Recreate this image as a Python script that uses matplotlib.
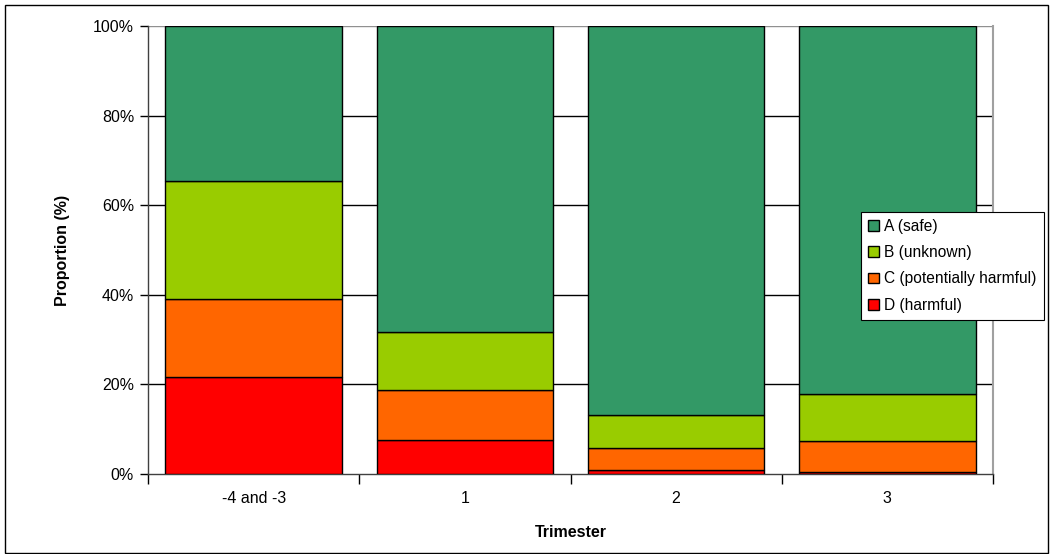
import numpy as np
import matplotlib.pyplot as plt
from matplotlib.patches import Rectangle

plt.rcParams['font.family'] = ['Liberation Sans', 'DejaVu Sans']

# Share of prescriptions per risk class, by trimester (%)
trimesters = ['-4 and -3', '1', '2', '3']
harmful = [21.6, 7.6, 0.8, 0.5]            # D
potentially_harmful = [17.4, 11.2, 5.1, 6.8]  # C
unknown = [26.4, 13.0, 7.2, 10.6]          # B
safe = [34.6, 68.2, 86.9, 82.1]            # A

series = [
    ('D (harmful)', harmful, '#FF0000'),
    ('C (potentially harmful)', potentially_harmful, '#FF6600'),
    ('B (unknown)', unknown, '#99CC00'),
    ('A (safe)', safe, '#339966'),
]

fig = plt.figure(figsize=(10.54, 5.54), dpi=100)
ax = fig.add_axes([148 / 1054, 1 - 474 / 554, (993 - 148) / 1054, (474 - 26) / 554])

x = np.arange(len(trimesters))
bottom = np.zeros(len(trimesters))
handles = {}
for name, vals, color in series:
    bars = ax.bar(x, vals, width=0.835, bottom=bottom, color=color,
                  edgecolor='black', linewidth=1.0, label=name, zorder=3)
    handles[name] = bars
    bottom += np.array(vals)

ax.set_xlim(-0.5, len(trimesters) - 0.5)
ax.set_ylim(0, 100)
ax.set_yticks(np.arange(0, 101, 20))
ax.set_yticklabels([f'{v}%' for v in range(0, 101, 20)], fontsize=11.5)
for y in range(20, 100, 20):
    ax.axhline(y, color='black', linewidth=1.0, zorder=1)
ax.axhline(100, color='#909090', linewidth=1.0, zorder=1)

ax.set_xticks(x)
ax.set_xticklabels(trimesters, fontsize=11.5)
ax.set_xticks(np.arange(-0.5, len(trimesters)), minor=True)
ax.tick_params(axis='x', which='major', length=0, pad=12)
ax.tick_params(axis='x', which='minor', length=7, width=1.0, direction='out')
ax.tick_params(axis='y', length=6, width=1.0, direction='out', pad=4)

for side in ['left', 'bottom']:
    ax.spines[side].set_color('#404040')
    ax.spines[side].set_linewidth(1.0)
ax.spines['top'].set_visible(False)
ax.spines['right'].set_color('#a0a0a0')
ax.spines['right'].set_linewidth(1.5)

ax.set_ylabel('Proportion (%)', fontsize=11.5, fontweight='bold', labelpad=17)
ax.set_xlabel('Trimester', fontsize=11.5, fontweight='bold', labelpad=14)

order = ['A (safe)', 'B (unknown)', 'C (potentially harmful)', 'D (harmful)']
leg = fig.legend([handles[n] for n in order], order, loc='upper left',
                 bbox_to_anchor=(861 / 1054, 1 - 212 / 554), fontsize=11.2,
                 frameon=True, fancybox=False, edgecolor='black', framealpha=1,
                 handlelength=0.7, handleheight=0.7, handletextpad=0.35,
                 labelspacing=0.72, borderpad=0.45, borderaxespad=0)
leg.get_frame().set_linewidth(0.8)

# outer chart border
fig.patches.append(Rectangle((5 / 1054, 1 / 554), 1043 / 1054, 548 / 554,
                             transform=fig.transFigure, fill=False,
                             edgecolor='black', linewidth=1.0))

fig.savefig('out.png', dpi=100)
